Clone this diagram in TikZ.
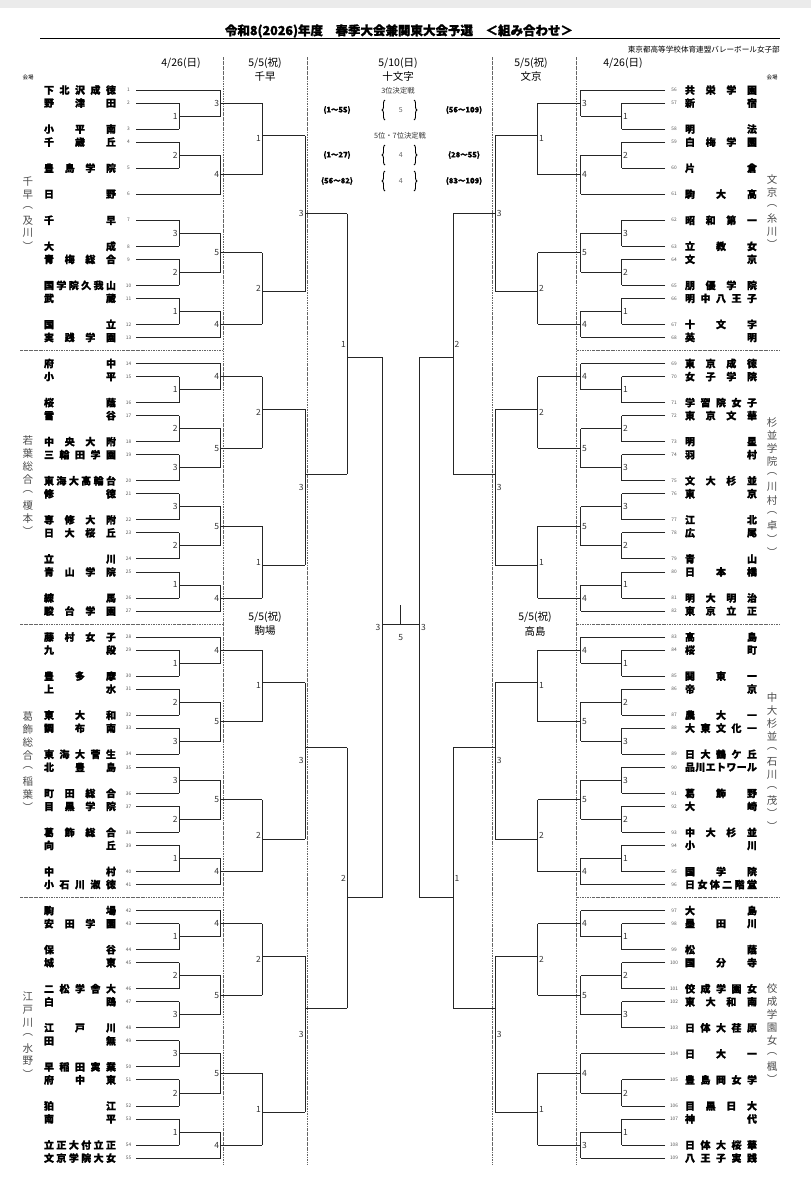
\documentclass[tikz,border=0pt]{standalone}
\usepackage{fontspec}
\setmainfont{Noto Sans CJK JP}[BoldFeatures={FakeBold=1.2}]
\usetikzlibrary{decorations.pathreplacing}
\def\XLa{179}\def\XLb{220.7}\def\XLc{262.3}\def\XLd{305}\def\XLe{347.3}\def\XLf{382}
\def\XRa{621.7}\def\XRb{580.7}\def\XRc{537.7}\def\XRd{495.3}\def\XRe{453}\def\XRf{419.3}
\newcount\nid
% left team: num,row,name,xend
\newcommand\Lt[4]{\global\advance\nid1
 \node[tnum] (ln\the\nid) at (128.5,{ry(#2)}) {#1};
 \node[tname] (lt\the\nid) at (80,{ry(#2)}) {\makebox[72pt][s]{\spaceskip=0pt plus 1fil\relax#3}};
 \draw[br] (136,{ry(#2)}) -- (#4,{ry(#2)});}
\newcommand\Rt[4]{\global\advance\nid1
 \node[tnum] (rn\the\nid) at (674,{ry(#2)}) {#1};
 \node[tname] (rt\the\nid) at (721,{ry(#2)}) {\makebox[72pt][s]{\spaceskip=0pt plus 1fil\relax#3}};
 \draw[br] (665,{ry(#2)}) -- (#4,{ry(#2)});}
% match: xv, ra, rb, rout, xout, label
\newcommand\Lm[6]{\global\advance\nid1
 \draw[br] (#1,{ry(#2)}) -- (#1,{ry(#3)}) (#1,{ry(#4)}) -- (#5,{ry(#4)});
 \node[rlab,anchor=east] (lm\the\nid) at ({#1-1.3},{ry((#2+#3)/2)}) {#6};}
\newcommand\Rm[6]{\global\advance\nid1
 \draw[br] (#1,{ry(#2)}) -- (#1,{ry(#3)}) (#1,{ry(#4)}) -- (#5,{ry(#4)});
 \node[rlab,anchor=west] (rm\the\nid) at ({#1+1.3},{ry((#2+#3)/2)}) {#6};}
\newcommand\Vt[4]{\foreach \ch [count=\i from 0] in {#4} {\node[venue] (#1\i) at (#2,{#3+12.9*\i}) {\ch};}}
\begin{document}
\begin{tikzpicture}[x=1pt,y=-1pt,
  declare function={ry(\r)=90+13.025*\r;},
  br/.style={line width=0.85pt,draw=black!85},
  dd/.style={line width=0.5pt,draw=black!60,dash pattern=on 2.5pt off 1pt on 0.6pt off 1pt},
  tnum/.style={font=\fontsize{4.8}{5}\selectfont,text=black!65,inner sep=0},
  tname/.style={font=\bfseries\fontsize{10}{10}\selectfont,inner sep=0},
  rlab/.style={font=\fontsize{8.5}{9}\selectfont,text=black!80,inner sep=0},
  venue/.style={font=\fontsize{10.5}{11}\selectfont,text=black!70,inner sep=0},
  hdr/.style={font=\fontsize{10.5}{11}\selectfont,inner sep=0},
  small/.style={font=\fontsize{7.3}{8}\selectfont,text=black!80,inner sep=0},
  rng/.style={font=\bfseries\fontsize{7.5}{8}\selectfont,inner sep=0},
  bnum/.style={font=\fontsize{7}{8}\selectfont,text=black!60,inner sep=0},
  brc/.style={decorate,decoration={brace,amplitude=3pt},line width=0.9pt},
]
\useasboundingbox (0,0) rectangle (811,1200);
\fill[white] (0,0) rectangle (811,1200);
\fill[black!8] (0,0) rectangle (811,8);
% header
\node[font=\bfseries\fontsize{12.5}{13}\selectfont,inner sep=0] (title) at (399,31) {令和8(2026)年度　春季大会兼関東大会予選　＜組み合わせ＞};
\draw[line width=0.8pt] (40,38.5) -- (780,38.5);
\node[font=\fontsize{7.6}{8}\selectfont,anchor=east,inner sep=0] (org) at (780,50) {東京都高等学校体育連盟バレーボール女子部};
\node[hdr] (d1) at (181,63) {4/26(日)};
\node[hdr] (d2) at (265,63) {5/5(祝)};
\node[hdr] (d3) at (398,63) {5/10(日)};
\node[hdr] (d4) at (531,63) {5/5(祝)};
\node[hdr] (d5) at (623,63) {4/26(日)};
\node[hdr] (p2) at (265,77) {千早};
\node[hdr] (p3) at (398,77) {十文字};
\node[hdr] (p4) at (531,77) {文京};
\node[font=\fontsize{5.5}{6}\selectfont,inner sep=0] (k1) at (28,77) {会場};
\node[font=\fontsize{5.5}{6}\selectfont,inner sep=0] (k2) at (772,77) {会場};
% centre info
\node[small] (c3) at (398,91) {3位決定戦};
\node[rng] (ca1) at (337,110) {(1〜55)};
\node[bnum] (cn1) at (400.7,110) {5};
\node[rng] (cb1) at (464,110) {(56〜109)};
\draw[brc] (385,120) -- (385,100);
\draw[brc] (414,100) -- (414,120);
\node[small] (c5) at (400,136) {5位・7位決定戦};
\node[rng] (ca2) at (337,155) {(1〜27)};
\node[bnum] (cn2) at (400.7,155) {4};
\node[rng] (cb2) at (464,155) {(28〜55)};
\draw[brc] (385,165) -- (385,145);
\draw[brc] (414,145) -- (414,165);
\node[rng] (ca3) at (337,181) {(56〜82)};
\node[bnum] (cn3) at (400.7,181) {4};
\node[rng] (cb3) at (464,181) {(83〜109)};
\draw[brc] (385,191) -- (385,171);
\draw[brc] (414,171) -- (414,191);
\node[hdr] (d6) at (265,617.5) {5/5(祝)};
\node[hdr] (p6) at (265,631) {駒場};
\node[hdr] (d7) at (535,617.5) {5/5(祝)};
\node[hdr] (p7) at (535,631) {高島};
% dashed guides
\foreach \xx in {223.5,307.7,492.7,576.7} \draw[dd] (\xx,57) -- (\xx,1165);
\foreach \rr in {20,41,62} {\draw[dd] (20,{ry(\rr)}) -- (223.5,{ry(\rr)}); \draw[dd] (576.7,{ry(\rr)}) -- (780,{ry(\rr)});}
% venues
\Vt{va}{28}{181.7}{千,早,︵,及,川,︶}
\Vt{vb}{28}{440.7}{若,葉,総,合,︵,榎,本,︶}
\Vt{vc}{28}{716.7}{葛,飾,総,合,︵,稲,葉,︶}
\Vt{vd}{28}{996.7}{江,戸,川,︵,水,野,︶}
\Vt{ve}{772}{180}{文,京,︵,糸,川,︶}
\Vt{vf}{772}{422.7}{杉,並,学,院,︵,川,村,︵,卓,︶,︶}
\Vt{vg}{772}{697.3}{中,大,杉,並,︵,石,川,︵,茂,︶,︶}
\Vt{vh}{772}{989}{佼,成,学,園,女,︵,楓,︶}
% left teams
\Lt{1}{0}{下 北 沢 成 徳}{\XLb}
\Lt{2}{1}{野 津 田}{\XLa}
\Lt{3}{3}{小 平 南}{\XLa}
\Lt{4}{4}{千 歳 丘}{\XLa}
\Lt{5}{6}{豊 島 学 院}{\XLa}
\Lt{6}{8}{日 野}{\XLb}
\Lt{7}{10}{千 早}{\XLa}
\Lt{8}{12}{大 成}{\XLa}
\Lt{9}{13}{青 梅 総 合}{\XLa}
\Lt{10}{15}{国 学 院 久 我 山}{\XLa}
\Lt{11}{16}{武 蔵}{\XLa}
\Lt{12}{18}{国 立}{\XLa}
\Lt{13}{19}{実 践 学 園}{\XLb}
\Lt{14}{21}{府 中}{\XLb}
\Lt{15}{22}{小 平}{\XLa}
\Lt{16}{24}{桜 蔭}{\XLa}
\Lt{17}{25}{雪 谷}{\XLa}
\Lt{18}{27}{中 央 大 附}{\XLa}
\Lt{19}{28}{三 輪 田 学 園}{\XLa}
\Lt{20}{30}{東 海 大 高 輪 台}{\XLa}
\Lt{21}{31}{修 徳}{\XLa}
\Lt{22}{33}{専 修 大 附}{\XLa}
\Lt{23}{34}{日 大 桜 丘}{\XLa}
\Lt{24}{36}{立 川}{\XLa}
\Lt{25}{37}{青 山 学 院}{\XLa}
\Lt{26}{39}{練 馬}{\XLa}
\Lt{27}{40}{駿 台 学 園}{\XLb}
\Lt{28}{42}{藤 村 女 子}{\XLb}
\Lt{29}{43}{九 段}{\XLa}
\Lt{30}{45}{豊 多 摩}{\XLa}
\Lt{31}{46}{上 水}{\XLa}
\Lt{32}{48}{東 大 和}{\XLa}
\Lt{33}{49}{調 布 南}{\XLa}
\Lt{34}{51}{東 海 大 菅 生}{\XLa}
\Lt{35}{52}{北 豊 島}{\XLa}
\Lt{36}{54}{町 田 総 合}{\XLa}
\Lt{37}{55}{目 黒 学 院}{\XLa}
\Lt{38}{57}{葛 飾 総 合}{\XLa}
\Lt{39}{58}{向 丘}{\XLa}
\Lt{40}{60}{中 村}{\XLa}
\Lt{41}{61}{小 石 川 淑 徳}{\XLb}
\Lt{42}{63}{駒 場}{\XLb}
\Lt{43}{64}{安 田 学 園}{\XLa}
\Lt{44}{66}{保 谷}{\XLa}
\Lt{45}{67}{城 東}{\XLa}
\Lt{46}{69}{二 松 学 舎 大}{\XLa}
\Lt{47}{70}{白 鴎}{\XLa}
\Lt{48}{72}{江 戸 川}{\XLa}
\Lt{49}{73}{田 無}{\XLa}
\Lt{50}{75}{早 稲 田 実 業}{\XLa}
\Lt{51}{76}{府 中 東}{\XLa}
\Lt{52}{78}{狛 江}{\XLa}
\Lt{53}{79}{南 平}{\XLa}
\Lt{54}{81}{立 正 大 付 立 正}{\XLa}
\Lt{55}{82}{文 京 学 院 大 女}{\XLb}
% right teams
\Rt{56}{0}{共 栄 学 園}{\XRb}
\Rt{57}{1}{新 宿}{\XRa}
\Rt{58}{3}{明 法}{\XRa}
\Rt{59}{4}{白 梅 学 園}{\XRa}
\Rt{60}{6}{片 倉}{\XRa}
\Rt{61}{8}{駒 大 高}{\XRb}
\Rt{62}{10}{昭 和 第 一}{\XRa}
\Rt{63}{12}{立 教 女}{\XRa}
\Rt{64}{13}{文 京}{\XRa}
\Rt{65}{15}{朋 優 学 院}{\XRa}
\Rt{66}{16}{明 中 八 王 子}{\XRa}
\Rt{67}{18}{十 文 字}{\XRa}
\Rt{68}{19}{英 明}{\XRb}
\Rt{69}{21}{東 京 成 徳}{\XRb}
\Rt{70}{22}{女 子 学 院}{\XRa}
\Rt{71}{24}{学 習 院 女 子}{\XRa}
\Rt{72}{25}{東 京 文 華}{\XRa}
\Rt{73}{27}{明 星}{\XRa}
\Rt{74}{28}{羽 村}{\XRa}
\Rt{75}{30}{文 大 杉 並}{\XRa}
\Rt{76}{31}{東 京}{\XRa}
\Rt{77}{33}{江 北}{\XRa}
\Rt{78}{34}{広 尾}{\XRa}
\Rt{79}{36}{青 山}{\XRa}
\Rt{80}{37}{日 本 橋}{\XRa}
\Rt{81}{39}{明 大 明 治}{\XRa}
\Rt{82}{40}{東 京 立 正}{\XRb}
\Rt{83}{42}{高 島}{\XRb}
\Rt{84}{43}{桜 町}{\XRa}
\Rt{85}{45}{関 東 一}{\XRa}
\Rt{86}{46}{帝 京}{\XRa}
\Rt{87}{48}{農 大 一}{\XRa}
\Rt{88}{49}{大 東 文 化 一}{\XRa}
\Rt{89}{51}{日 大 鶴 ケ 丘}{\XRa}
\Rt{90}{52}{品 川 エ ト ワ ー ル}{\XRa}
\Rt{91}{54}{葛 飾 野}{\XRa}
\Rt{92}{55}{大 崎}{\XRa}
\Rt{93}{57}{中 大 杉 並}{\XRa}
\Rt{94}{58}{小 川}{\XRa}
\Rt{95}{60}{国 学 院}{\XRa}
\Rt{96}{61}{日 女 体 二 階 堂}{\XRb}
\Rt{97}{63}{大 島}{\XRb}
\Rt{98}{64}{墨 田 川}{\XRa}
\Rt{99}{66}{松 蔭}{\XRa}
\Rt{100}{67}{国 分 寺}{\XRa}
\Rt{101}{69}{佼 成 学 園 女}{\XRa}
\Rt{102}{70}{東 大 和 南}{\XRa}
\Rt{103}{72}{日 体 大 荏 原}{\XRa}
\Rt{104}{74}{日 大 一}{\XRb}
\Rt{105}{76}{豊 島 岡 女 学}{\XRa}
\Rt{106}{78}{目 黒 日 大}{\XRa}
\Rt{107}{79}{神 代}{\XRa}
\Rt{108}{81}{日 体 大 桜 華}{\XRa}
\Rt{109}{82}{八 王 子 実 践}{\XRb}
% left section 1 rounds 1-2
\Lm{\XLa}{1}{3}{2}{\XLb}{1}
\Lm{\XLa}{4}{6}{5}{\XLb}{2}
\Lm{\XLa}{10}{12}{11}{\XLb}{3}
\Lm{\XLa}{13}{15}{14}{\XLb}{2}
\Lm{\XLa}{16}{18}{17}{\XLb}{1}
\Lm{\XLb}{0}{2}{1}{\XLc}{3}
\Lm{\XLb}{5}{8}{6.5}{\XLc}{4}
\Lm{\XLb}{11}{14}{12.5}{\XLc}{5}
\Lm{\XLb}{17}{19}{18}{\XLc}{4}
% right section 1
\Rm{\XRa}{1}{3}{2}{\XRb}{1}
\Rm{\XRa}{4}{6}{5}{\XRb}{2}
\Rm{\XRa}{10}{12}{11}{\XRb}{3}
\Rm{\XRa}{13}{15}{14}{\XRb}{2}
\Rm{\XRa}{16}{18}{17}{\XRb}{1}
\Rm{\XRb}{0}{2}{1}{\XRc}{3}
\Rm{\XRb}{5}{8}{6.5}{\XRc}{4}
\Rm{\XRb}{11}{14}{12.5}{\XRc}{5}
\Rm{\XRb}{17}{19}{18}{\XRc}{4}
% 14-team sections
\foreach \o in {21,42,63}{
 \Lm{\XLa}{\o+1}{\o+3}{\o+2}{\XLb}{1}
 \Lm{\XLa}{\o+4}{\o+6}{\o+5}{\XLb}{2}
 \Lm{\XLa}{\o+7}{\o+9}{\o+8}{\XLb}{3}
 \Lm{\XLa}{\o+10}{\o+12}{\o+11}{\XLb}{3}
 \Lm{\XLa}{\o+13}{\o+15}{\o+14}{\XLb}{2}
 \Lm{\XLa}{\o+16}{\o+18}{\o+17}{\XLb}{1}
 \Lm{\XLb}{\o}{\o+2}{\o+1}{\XLc}{4}
 \Lm{\XLb}{\o+5}{\o+8}{\o+6.5}{\XLc}{5}
 \Lm{\XLb}{\o+11}{\o+14}{\o+12.5}{\XLc}{5}
 \Lm{\XLb}{\o+17}{\o+19}{\o+18}{\XLc}{4}
}
\foreach \o in {21,42}{
 \Rm{\XRa}{\o+1}{\o+3}{\o+2}{\XRb}{1}
 \Rm{\XRa}{\o+4}{\o+6}{\o+5}{\XRb}{2}
 \Rm{\XRa}{\o+7}{\o+9}{\o+8}{\XRb}{3}
 \Rm{\XRa}{\o+10}{\o+12}{\o+11}{\XRb}{3}
 \Rm{\XRa}{\o+13}{\o+15}{\o+14}{\XRb}{2}
 \Rm{\XRa}{\o+16}{\o+18}{\o+17}{\XRb}{1}
 \Rm{\XRb}{\o}{\o+2}{\o+1}{\XRc}{4}
 \Rm{\XRb}{\o+5}{\o+8}{\o+6.5}{\XRc}{5}
 \Rm{\XRb}{\o+11}{\o+14}{\o+12.5}{\XRc}{5}
 \Rm{\XRb}{\o+17}{\o+19}{\o+18}{\XRc}{4}
}
% right section 4 (13 teams)
\Rm{\XRa}{64}{66}{65}{\XRb}{1}
\Rm{\XRa}{67}{69}{68}{\XRb}{2}
\Rm{\XRa}{70}{72}{71}{\XRb}{3}
\Rm{\XRa}{76}{78}{77}{\XRb}{2}
\Rm{\XRa}{79}{81}{80}{\XRb}{1}
\Rm{\XRb}{63}{65}{64}{\XRc}{4}
\Rm{\XRb}{68}{71}{69.5}{\XRc}{5}
\Rm{\XRb}{74}{77}{75.5}{\XRc}{4}
\Rm{\XRb}{80}{82}{81}{\XRc}{3}
% round 3
\Lm{\XLc}{1}{6.5}{3.5}{\XLd}{1}
\Lm{\XLc}{12.5}{18}{15.5}{\XLd}{2}
\Lm{\XLc}{22}{27.5}{24.5}{\XLd}{2}
\Lm{\XLc}{33.5}{39}{36.5}{\XLd}{1}
\Lm{\XLc}{43}{48.5}{45.5}{\XLd}{1}
\Lm{\XLc}{54.5}{60}{57.5}{\XLd}{2}
\Lm{\XLc}{64}{69.5}{66.5}{\XLd}{2}
\Lm{\XLc}{75.5}{81}{78.5}{\XLd}{1}
\Rm{\XRc}{1}{6.5}{3.5}{\XRd}{1}
\Rm{\XRc}{12.5}{18}{15.5}{\XRd}{2}
\Rm{\XRc}{22}{27.5}{24.5}{\XRd}{2}
\Rm{\XRc}{33.5}{39}{36.5}{\XRd}{1}
\Rm{\XRc}{43}{48.5}{45.5}{\XRd}{1}
\Rm{\XRc}{54.5}{60}{57.5}{\XRd}{2}
\Rm{\XRc}{64}{69.5}{66.5}{\XRd}{2}
\Rm{\XRc}{75.5}{81}{78.5}{\XRd}{1}
% round 4
\Lm{\XLd}{3.5}{15.5}{9.5}{\XLe}{3}
\Lm{\XLd}{24.5}{36.5}{29.5}{\XLe}{3}
\Lm{\XLd}{45.5}{57.5}{50.5}{\XLe}{3}
\Lm{\XLd}{66.5}{78.5}{70.5}{\XLe}{3}
\Rm{\XRd}{3.5}{15.5}{9.5}{\XRe}{3}
\Rm{\XRd}{24.5}{36.5}{29.5}{\XRe}{3}
\Rm{\XRd}{45.5}{57.5}{50.5}{\XRe}{3}
\Rm{\XRd}{66.5}{78.5}{70.5}{\XRe}{3}
% round 5
\Lm{\XLe}{9.5}{29.5}{20.5}{\XLf}{1}
\Lm{\XLe}{50.5}{70.5}{62}{\XLf}{2}
\Rm{\XRe}{9.5}{29.5}{20.5}{\XRf}{2}
\Rm{\XRe}{50.5}{70.5}{62}{\XRf}{1}
% final
\draw[br] (\XLf,{ry(20.5)}) -- (\XLf,{ry(62)});
\draw[br] (\XRf,{ry(20.5)}) -- (\XRf,{ry(62)});
\draw[br] (\XLf,{ry(41)}) -- (\XRf,{ry(41)});
\draw[br] (400.7,605) -- (400.7,{ry(41)});
\node[rlab,anchor=east] (f1) at (380.5,627) {3};
\node[rlab,anchor=west] (f2) at (421,627) {3};
\node[rlab] (f3) at (400.7,638) {5};
\end{tikzpicture}
\end{document}
